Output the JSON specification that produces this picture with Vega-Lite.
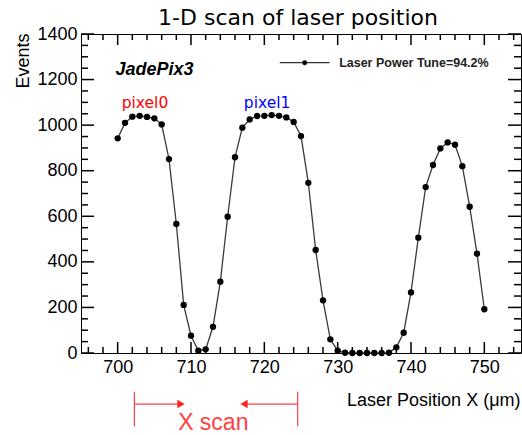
{
  "$schema": "https://vega.github.io/schema/vega-lite/v6.json",
  "width": 440,
  "height": 319,
  "autosize": "none",
  "padding": {"left": 81, "top": 34, "right": 1, "bottom": 82},
  "background": "white",
  "title": {"text": "1-D scan of laser position", "font": "DejaVu Sans", "fontSize": 22, "fontWeight": "normal", "color": "black", "anchor": "middle", "frame": "group", "offset": -4.5, "dx": -3},
  "config": {
    "view": {"stroke": "black", "strokeWidth": 1},
    "axis": {"domain": false, "grid": false, "labelFont": "Liberation Sans", "labelFontSize": 18, "labelColor": "black", "titleFont": "Liberation Sans", "titleFontSize": 18, "titleFontWeight": "normal", "titleColor": "black", "labelFlush": false, "labelOverlap": false}
  },
  "datasets": {
    "scan": [
      {"x": 700, "y": 942}, {"x": 701, "y": 1010}, {"x": 702, "y": 1037}, {"x": 703, "y": 1041}, {"x": 704, "y": 1036},
      {"x": 705, "y": 1030}, {"x": 706, "y": 1003}, {"x": 707, "y": 851}, {"x": 708, "y": 566}, {"x": 709, "y": 211},
      {"x": 710, "y": 76}, {"x": 711, "y": 10}, {"x": 712, "y": 16}, {"x": 713, "y": 115}, {"x": 714, "y": 313},
      {"x": 715, "y": 598}, {"x": 716, "y": 859}, {"x": 717, "y": 989}, {"x": 718, "y": 1025}, {"x": 719, "y": 1040},
      {"x": 720, "y": 1041}, {"x": 721, "y": 1044}, {"x": 722, "y": 1041}, {"x": 723, "y": 1034}, {"x": 724, "y": 1014},
      {"x": 725, "y": 952}, {"x": 726, "y": 747}, {"x": 727, "y": 452}, {"x": 728, "y": 231}, {"x": 729, "y": 60},
      {"x": 730, "y": 10}, {"x": 731, "y": 1}, {"x": 732, "y": 0}, {"x": 733, "y": 0}, {"x": 734, "y": 0},
      {"x": 735, "y": 0}, {"x": 736, "y": 0}, {"x": 737, "y": 1}, {"x": 738, "y": 25}, {"x": 739, "y": 89},
      {"x": 740, "y": 266}, {"x": 741, "y": 506}, {"x": 742, "y": 728}, {"x": 743, "y": 825}, {"x": 744, "y": 898},
      {"x": 745, "y": 924}, {"x": 746, "y": 914}, {"x": 747, "y": 820}, {"x": 748, "y": 642}, {"x": 749, "y": 436},
      {"x": 750, "y": 192}
    ],
    "xmajor": [{"v": 700}, {"v": 710}, {"v": 720}, {"v": 730}, {"v": 740}, {"v": 750}],
    "xminor": [{"v": 696}, {"v": 698}, {"v": 702}, {"v": 704}, {"v": 706}, {"v": 708}, {"v": 712}, {"v": 714}, {"v": 716}, {"v": 718}, {"v": 722}, {"v": 724}, {"v": 726}, {"v": 728}, {"v": 732}, {"v": 734}, {"v": 736}, {"v": 738}, {"v": 742}, {"v": 744}, {"v": 746}, {"v": 748}, {"v": 752}, {"v": 754}],
    "ymajor": [{"v": 0}, {"v": 200}, {"v": 400}, {"v": 600}, {"v": 800}, {"v": 1000}, {"v": 1200}, {"v": 1400}],
    "yminor": [{"v": 50}, {"v": 100}, {"v": 150}, {"v": 250}, {"v": 300}, {"v": 350}, {"v": 450}, {"v": 500}, {"v": 550}, {"v": 650}, {"v": 700}, {"v": 750}, {"v": 850}, {"v": 900}, {"v": 950}, {"v": 1050}, {"v": 1100}, {"v": 1150}, {"v": 1250}, {"v": 1300}, {"v": 1350}]
  },
  "resolve": {"axis": {"x": "independent", "y": "independent"}},
  "layer": [
    {
      "data": {"name": "scan"},
      "mark": {"type": "line", "color": "#3a3a3a", "strokeWidth": 1.3},
      "encoding": {
        "x": {"field": "x", "type": "quantitative", "scale": {"domain": [695, 755], "nice": false, "zero": false},
              "axis": {"orient": "bottom", "values": [700, 710, 720, 730, 740, 750], "ticks": false, "labelPadding": 5,
                       "title": "Laser Position X (μm)", "titleX": 439, "titleY": 52, "titleAlign": "right", "titleAnchor": "end", "titleBaseline": "alphabetic"}},
        "y": {"field": "y", "type": "quantitative", "scale": {"domain": [0, 1400], "nice": false, "zero": false},
              "axis": {"orient": "left", "values": [0, 200, 400, 600, 800, 1000, 1200, 1400], "format": "d", "ticks": false, "labelPadding": 4,
                       "title": "Events", "titleX": -53, "titleY": -1, "titleAlign": "right", "titleAnchor": "end", "titleAngle": 270, "titleBaseline": "alphabetic"}}
      }
    },
    {
      "data": {"name": "scan"},
      "mark": {"type": "point", "filled": true, "color": "black", "size": 40, "opacity": 1},
      "encoding": {
        "x": {"field": "x", "type": "quantitative", "scale": {"domain": [695, 755], "nice": false, "zero": false}, "axis": null},
        "y": {"field": "y", "type": "quantitative", "scale": {"domain": [0, 1400], "nice": false, "zero": false}, "axis": null}
      }
    },
    {
      "data": {"name": "xmajor"},
      "mark": {"type": "rule", "color": "black", "strokeWidth": 1.5},
      "encoding": {
        "x": {"field": "v", "type": "quantitative", "scale": {"domain": [695, 755], "nice": false, "zero": false}, "axis": null},
        "y": {"datum": 0, "type": "quantitative", "scale": {"domain": [0, 1400], "nice": false, "zero": false}, "axis": null},
        "y2": {"datum": 48.3}
      }
    },
    {
      "data": {"name": "xmajor"},
      "mark": {"type": "rule", "color": "black", "strokeWidth": 1.5},
      "encoding": {
        "x": {"field": "v", "type": "quantitative", "scale": {"domain": [695, 755], "nice": false, "zero": false}, "axis": null},
        "y": {"datum": 1400, "type": "quantitative", "scale": {"domain": [0, 1400], "nice": false, "zero": false}, "axis": null},
        "y2": {"datum": 1351.7}
      }
    },
    {
      "data": {"name": "xminor"},
      "mark": {"type": "rule", "color": "black", "strokeWidth": 1.5},
      "encoding": {
        "x": {"field": "v", "type": "quantitative", "scale": {"domain": [695, 755], "nice": false, "zero": false}, "axis": null},
        "y": {"datum": 0, "type": "quantitative", "scale": {"domain": [0, 1400], "nice": false, "zero": false}, "axis": null},
        "y2": {"datum": 26.3}
      }
    },
    {
      "data": {"name": "xminor"},
      "mark": {"type": "rule", "color": "black", "strokeWidth": 1.5},
      "encoding": {
        "x": {"field": "v", "type": "quantitative", "scale": {"domain": [695, 755], "nice": false, "zero": false}, "axis": null},
        "y": {"datum": 1400, "type": "quantitative", "scale": {"domain": [0, 1400], "nice": false, "zero": false}, "axis": null},
        "y2": {"datum": 1373.7}
      }
    },
    {
      "data": {"name": "ymajor"},
      "mark": {"type": "rule", "color": "black", "strokeWidth": 1.5},
      "encoding": {
        "y": {"field": "v", "type": "quantitative", "scale": {"domain": [0, 1400], "nice": false, "zero": false}, "axis": null},
        "x": {"datum": 695, "type": "quantitative", "scale": {"domain": [695, 755], "nice": false, "zero": false}, "axis": null},
        "x2": {"datum": 696.77}
      }
    },
    {
      "data": {"name": "ymajor"},
      "mark": {"type": "rule", "color": "black", "strokeWidth": 1.5},
      "encoding": {
        "y": {"field": "v", "type": "quantitative", "scale": {"domain": [0, 1400], "nice": false, "zero": false}, "axis": null},
        "x": {"datum": 755, "type": "quantitative", "scale": {"domain": [695, 755], "nice": false, "zero": false}, "axis": null},
        "x2": {"datum": 753.23}
      }
    },
    {
      "data": {"name": "yminor"},
      "mark": {"type": "rule", "color": "black", "strokeWidth": 1.5},
      "encoding": {
        "y": {"field": "v", "type": "quantitative", "scale": {"domain": [0, 1400], "nice": false, "zero": false}, "axis": null},
        "x": {"datum": 695, "type": "quantitative", "scale": {"domain": [695, 755], "nice": false, "zero": false}, "axis": null},
        "x2": {"datum": 695.95}
      }
    },
    {
      "data": {"name": "yminor"},
      "mark": {"type": "rule", "color": "black", "strokeWidth": 1.5},
      "encoding": {
        "y": {"field": "v", "type": "quantitative", "scale": {"domain": [0, 1400], "nice": false, "zero": false}, "axis": null},
        "x": {"datum": 755, "type": "quantitative", "scale": {"domain": [695, 755], "nice": false, "zero": false}, "axis": null},
        "x2": {"datum": 754.05}
      }
    },
    {
      "data": {"values": [{"x": 699.7, "y": 1220, "label": "JadePix3"}]},
      "mark": {"type": "text", "font": "Liberation Sans", "fontSize": 18, "fontWeight": "bold", "fontStyle": "italic", "align": "left", "baseline": "alphabetic", "color": "black"},
      "encoding": {
        "x": {"field": "x", "type": "quantitative", "scale": {"domain": [695, 755], "nice": false, "zero": false}, "axis": null},
        "y": {"field": "y", "type": "quantitative", "scale": {"domain": [0, 1400], "nice": false, "zero": false}, "axis": null},
        "text": {"field": "label"}
      }
    },
    {
      "data": {"values": [{"x": 700.55, "y": 1074, "label": "pixel0"}]},
      "mark": {"type": "text", "font": "DejaVu Sans", "fontSize": 15.5, "align": "left", "baseline": "alphabetic", "color": "#ff0000"},
      "encoding": {
        "x": {"field": "x", "type": "quantitative", "scale": {"domain": [695, 755], "nice": false, "zero": false}, "axis": null},
        "y": {"field": "y", "type": "quantitative", "scale": {"domain": [0, 1400], "nice": false, "zero": false}, "axis": null},
        "text": {"field": "label"}
      }
    },
    {
      "data": {"values": [{"x": 717.2, "y": 1074, "label": "pixel1"}]},
      "mark": {"type": "text", "font": "DejaVu Sans", "fontSize": 15.5, "align": "left", "baseline": "alphabetic", "color": "#0000ff"},
      "encoding": {
        "x": {"field": "x", "type": "quantitative", "scale": {"domain": [695, 755], "nice": false, "zero": false}, "axis": null},
        "y": {"field": "y", "type": "quantitative", "scale": {"domain": [0, 1400], "nice": false, "zero": false}, "axis": null},
        "text": {"field": "label"}
      }
    },
    {
      "data": {"values": [{"x": 722.1, "x2": 728.9, "y": 1274}]},
      "mark": {"type": "rule", "color": "black", "strokeWidth": 1},
      "encoding": {
        "x": {"field": "x", "type": "quantitative", "scale": {"domain": [695, 755], "nice": false, "zero": false}, "axis": null},
        "x2": {"field": "x2"},
        "y": {"field": "y", "type": "quantitative", "scale": {"domain": [0, 1400], "nice": false, "zero": false}, "axis": null}
      }
    },
    {
      "data": {"values": [{"x": 725.5, "y": 1274}]},
      "mark": {"type": "point", "filled": true, "color": "black", "size": 24, "opacity": 1},
      "encoding": {
        "x": {"field": "x", "type": "quantitative", "scale": {"domain": [695, 755], "nice": false, "zero": false}, "axis": null},
        "y": {"field": "y", "type": "quantitative", "scale": {"domain": [0, 1400], "nice": false, "zero": false}, "axis": null}
      }
    },
    {
      "data": {"values": [{"x": 730.2, "y": 1253, "label": "Laser Power Tune=94.2%"}]},
      "mark": {"type": "text", "font": "Liberation Sans", "fontSize": 12.5, "fontWeight": "bold", "align": "left", "baseline": "alphabetic", "color": "#222222"},
      "encoding": {
        "x": {"field": "x", "type": "quantitative", "scale": {"domain": [695, 755], "nice": false, "zero": false}, "axis": null},
        "y": {"field": "y", "type": "quantitative", "scale": {"domain": [0, 1400], "nice": false, "zero": false}, "axis": null},
        "text": {"field": "label"}
      }
    },
    {
      "data": {"values": [
        {"x": 702.28, "y": -170, "x2": 702.28, "y2": -323},
        {"x": 724.55, "y": -170, "x2": 724.55, "y2": -323},
        {"x": 702.28, "y": -224, "x2": 708.2, "y2": -224},
        {"x": 717.6, "y": -224, "x2": 724.55, "y2": -224}
      ]},
      "mark": {"type": "rule", "color": "#ff4040", "strokeWidth": 1.2},
      "encoding": {
        "x": {"field": "x", "type": "quantitative", "scale": {"domain": [695, 755], "nice": false, "zero": false}, "axis": null},
        "x2": {"field": "x2"},
        "y": {"field": "y", "type": "quantitative", "scale": {"domain": [0, 1400], "nice": false, "zero": false}, "axis": null},
        "y2": {"field": "y2"}
      }
    },
    {
      "data": {"values": [
        {"x": 708.64, "y": -224, "dir": "right"},
        {"x": 717.23, "y": -224, "dir": "left"}
      ]},
      "mark": {"type": "point", "filled": true, "color": "#ff2020", "size": 70, "opacity": 1},
      "encoding": {
        "x": {"field": "x", "type": "quantitative", "scale": {"domain": [695, 755], "nice": false, "zero": false}, "axis": null},
        "y": {"field": "y", "type": "quantitative", "scale": {"domain": [0, 1400], "nice": false, "zero": false}, "axis": null},
        "shape": {"field": "dir", "type": "nominal", "scale": {"domain": ["right", "left"], "range": ["triangle-right", "triangle-left"]}, "legend": null}
      }
    },
    {
      "data": {"values": [{"x": 713.04, "y": -338, "label": "X scan"}]},
      "mark": {"type": "text", "font": "Liberation Sans", "fontSize": 23, "align": "center", "baseline": "alphabetic", "color": "#ff4040"},
      "encoding": {
        "x": {"field": "x", "type": "quantitative", "scale": {"domain": [695, 755], "nice": false, "zero": false}, "axis": null},
        "y": {"field": "y", "type": "quantitative", "scale": {"domain": [0, 1400], "nice": false, "zero": false}, "axis": null},
        "text": {"field": "label"}
      }
    }
  ]
}
